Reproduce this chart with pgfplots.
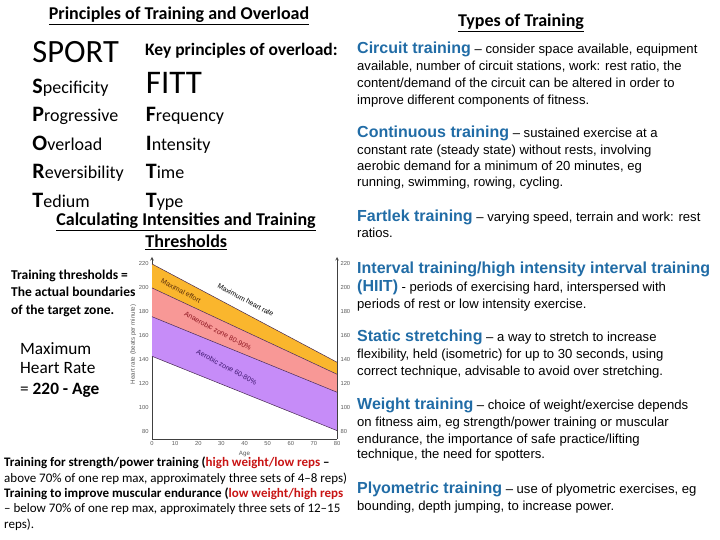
\documentclass[border=0pt]{standalone}
\usepackage{pgfplots}
\pgfplotsset{compat=1.18}
\usepackage{fontspec}
\setmainfont{Carlito}
\newfontfamily\arial{Liberation Sans}
\definecolor{hdblue}{RGB}{33,108,166}
\definecolor{zorange}{RGB}{250,182,45}
\definecolor{zpink}{RGB}{248,152,150}
\definecolor{zpurple}{RGB}{198,140,248}
\definecolor{zline}{RGB}{70,40,80}
\definecolor{redtxt}{RGB}{200,20,20}
\newcommand\fs[1]{\fontsize{#1bp}{#1bp}\selectfont}
\newcommand\hd[1]{{\arial\bfseries\fs{16}\color{hdblue}#1}}
\newcommand\bd{\arial\fs{13.1}}
\newcommand\initl[2]{{\bfseries\fs{22}#1}{\fs{18}#2}}
\begin{document}
\begin{tikzpicture}[x=1bp,y=1bp]
\useasboundingbox (0,0) rectangle (720,540);
\begin{scope}[yshift=540bp, yscale=-1]
% ---------- left column ----------
\node[anchor=base, inner sep=0] at (179,20) {\bfseries\fs{18}\underline{Principles of Training and Overload}};
\node[anchor=base west, inner sep=0] at (32.3,62.3) {\fs{32.5}SPORT};
\node[anchor=base west, inner sep=0] at (145,56) {\bfseries\fs{17.5}Key principles of overload:};
\node[anchor=base west, inner sep=0] at (145.7,93.3) {\fs{33}FITT};
\node[anchor=base west, inner sep=0] at (32.3,94) {\initl{S}{pecificity}};
\node[anchor=base west, inner sep=0] at (32.3,121.7) {\initl{P}{rogressive}};
\node[anchor=base west, inner sep=0] at (32.3,150.7) {\initl{O}{verload}};
\node[anchor=base west, inner sep=0] at (32.3,179) {\initl{R}{eversibility}};
\node[anchor=base west, inner sep=0] at (32.3,207.3) {\initl{T}{edium}};
\node[anchor=base west, inner sep=0] at (145.7,121.7) {\initl{F}{requency}};
\node[anchor=base west, inner sep=0] at (145.7,150.7) {\initl{I}{ntensity}};
\node[anchor=base west, inner sep=0] at (145.7,179) {\initl{T}{ime}};
\node[anchor=base west, inner sep=0] at (145.7,207.3) {\initl{T}{ype}};
\node[anchor=base, inner sep=0] at (186,226) {\bfseries\fs{18}\underline{Calculating Intensities and Training}};
\node[anchor=base, inner sep=0] at (186.3,248) {\bfseries\fs{18}\underline{Thresholds}};
\node[anchor=base west, inner sep=0] at (11,279.3) {\bfseries\fs{13.5}Training thresholds =};
\node[anchor=base west, inner sep=0] at (11,297) {\bfseries\fs{13.5}The actual boundaries};
\node[anchor=base west, inner sep=0] at (11,315) {\bfseries\fs{13.5}of the target zone.};
\node[anchor=base west, inner sep=0] at (20,354.5) {\fs{17.3}Maximum};
\node[anchor=base west, inner sep=0] at (20,374) {\fs{17.3}Heart Rate};
\node[anchor=base west, inner sep=0] at (20,395) {\fs{17.3}= \textbf{220 - Age}};
\node[anchor=base west, inner sep=0] at (4,467) {\fs{13}\textbf{Training for strength/power training (}{\bfseries\color{redtxt}high weight/low reps} \textbf{–}};
\node[anchor=base west, inner sep=0] at (4,482.3) {\fs{13}above 70\% of one rep max, approximately three sets of 4–8 reps)};
\node[anchor=base west, inner sep=0] at (4,497.6) {\fs{13}\textbf{Training to improve muscular endurance (}{\bfseries\color{redtxt}low weight/high reps}};
\node[anchor=base west, inner sep=0] at (4,512.9) {\fs{13}– below 70\% of one rep max, approximately three sets of 12–15};
\node[anchor=base west, inner sep=0] at (4,528.2) {\fs{13}reps).};
% ---------- right column ----------
\node[anchor=base, inner sep=0] at (521,26.7) {\bfseries\fs{18}\underline{Types of Training}};
\node[anchor=base west, inner sep=0] at (357,53.8) {\bd\hd{Circuit training} – consider space available, equipment};
\node[anchor=base west, inner sep=0] at (357,71) {\bd available, number of circuit stations, work: rest ratio, the};
\node[anchor=base west, inner sep=0] at (357,87.6) {\bd content/demand of the circuit can be altered in order to};
\node[anchor=base west, inner sep=0] at (357,104.3) {\bd improve different components of fitness.};
\node[anchor=base west, inner sep=0] at (357,137.5) {\bd\hd{Continuous training} – sustained exercise at a};
\node[anchor=base west, inner sep=0] at (357,154.6) {\bd constant rate (steady state) without rests, involving};
\node[anchor=base west, inner sep=0] at (357,170.6) {\bd aerobic demand for a minimum of 20 minutes, eg};
\node[anchor=base west, inner sep=0] at (357,187) {\bd running, swimming, rowing, cycling.};
\node[anchor=base west, inner sep=0] at (357,221.3) {\bd\hd{Fartlek training} – varying speed, terrain and work: rest};
\node[anchor=base west, inner sep=0] at (357,238) {\bd ratios.};
\node[anchor=base west, inner sep=0] at (357,273.2) {\bd\hd{Interval training/high intensity interval training}};
\node[anchor=base west, inner sep=0] at (357,291.2) {\bd\hd{(HIIT)} - periods of exercising hard, interspersed with};
\node[anchor=base west, inner sep=0] at (357,308.2) {\bd periods of rest or low intensity exercise.};
\node[anchor=base west, inner sep=0] at (357,341.5) {\bd\hd{Static stretching} – a way to stretch to increase};
\node[anchor=base west, inner sep=0] at (357,359) {\bd flexibility, held (isometric) for up to 30 seconds, using};
\node[anchor=base west, inner sep=0] at (357,375.6) {\bd correct technique, advisable to avoid over stretching.};
\node[anchor=base west, inner sep=0] at (357,409.5) {\bd\hd{Weight training} – choice of weight/exercise depends};
\node[anchor=base west, inner sep=0] at (357,426.3) {\bd on fitness aim, eg strength/power training or muscular};
\node[anchor=base west, inner sep=0] at (357,443.2) {\bd endurance, the importance of safe practice/lifting};
\node[anchor=base west, inner sep=0] at (357,459) {\bd technique, the need for spotters.};
\node[anchor=base west, inner sep=0] at (357,494) {\bd\hd{Plyometric training} – use of plyometric exercises, eg};
\node[anchor=base west, inner sep=0] at (357,510.5) {\bd bounding, depth jumping, to increase power.};
\end{scope}
% ---------- chart ----------
\begin{axis}[at={(152bp,101bp)}, anchor=south west, scale only axis,
  width=185bp, height=182bp,
  xmin=0, xmax=80, ymin=74, ymax=225.8,
  axis lines*=left, axis line style={line width=0.6bp, black!75},
  every outer y axis line/.append style={-stealth},
  xtick={0,10,...,80}, ytick={80,100,...,220},
  major tick length=0pt,
  /pgf/number format/assume math mode=true,
  tick label style={font=\arial\fs{5.8}, text=black!65},
  xticklabel style={yshift=1bp},
  xlabel={Age}, ylabel={Heart rate (beats per minute)},
  xlabel style={font=\arial\fs{6.2}, text=black!65, at={(axis description cs:0.5,-0.082)}, anchor=center},
  ylabel style={font=\arial\fs{6.2}, text=black!65, at={(axis description cs:-0.101,0.52)}, anchor=center},
  clip=false]
\addplot[fill=zorange, draw=none] coordinates {(0,220) (80,138) (80,128) (0,200)} -- cycle;
\addplot[fill=zpink, draw=none] coordinates {(0,200) (80,128) (80,113) (0,176)} -- cycle;
\addplot[fill=zpurple, draw=none] coordinates {(0,176) (80,113) (80,81) (0,143)} -- cycle;
\addplot[zline, line width=0.5bp] coordinates {(0,220) (80,138)};
\addplot[zline, line width=0.5bp] coordinates {(0,200) (80,128)};
\addplot[zline, line width=0.5bp] coordinates {(0,176) (80,113)};
\addplot[zline, line width=0.5bp] coordinates {(0,143) (80,81)};
\node[rotate=-28, font=\arial\fs{7}, text={rgb,255:red,90;green,45;blue,10}] at (axis cs:12.5,197.5) {Maximal effort};
\node[rotate=-28, font=\arial\fs{7}, text=black] at (axis cs:40.5,190) {Maximum heart rate};
\node[rotate=-28, font=\arial\fs{7}, text={rgb,255:red,140;green,20;blue,30}] at (axis cs:28.5,164) {Anaerobic zone 80-90\%};
\node[rotate=-28, font=\arial\fs{7}, text={rgb,255:red,60;green,20;blue,110}] at (axis cs:32.3,134) {Aerobic zone 60-80\%};
\end{axis}
\begin{axis}[at={(152bp,101bp)}, anchor=south west, scale only axis,
  width=185bp, height=182bp,
  xmin=0, xmax=80, ymin=74, ymax=225.8,
  axis x line=none, axis y line*=right,
  axis line style={line width=0.6bp, black!75},
  every outer y axis line/.append style={-stealth},
  ytick={80,100,...,220}, major tick length=0pt,
  /pgf/number format/assume math mode=true,
  tick label style={font=\arial\fs{5.8}, text=black!65}]
\end{axis}
\end{tikzpicture}
\end{document}
